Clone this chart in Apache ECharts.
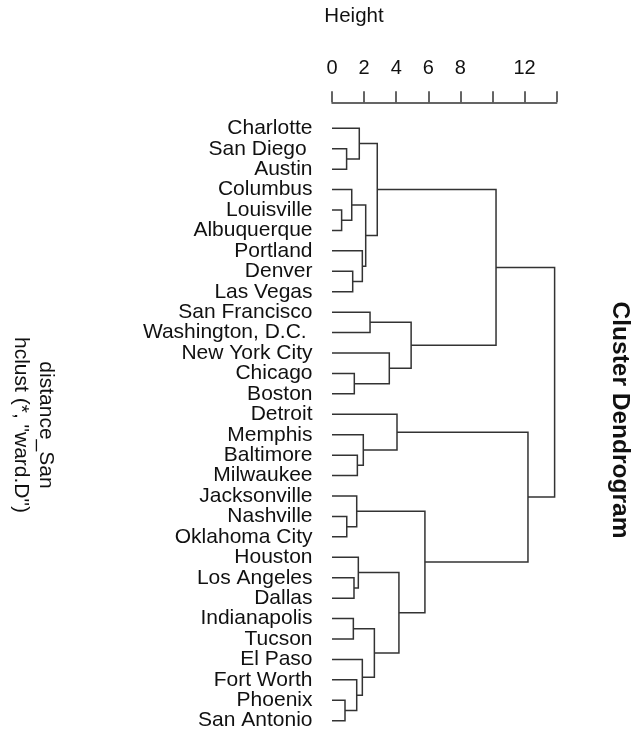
<!DOCTYPE html>
<html>
<head>
<meta charset="utf-8">
<title>Cluster Dendrogram</title>
<script src="https://cdn.jsdelivr.net/npm/echarts@6/dist/echarts.min.js"></script>
<style>
  html, body { margin: 0; padding: 0; background: #fff; }
  #chart { width: 633px; height: 732px; }
</style>
</head>
<body>
<div id="chart"></div>
<script>
// Leaf labels in dendrogram order (top to bottom)
const leaves = [
  'Charlotte', 'San Diego ', 'Austin', 'Columbus', 'Louisville', 'Albuquerque',
  'Portland', 'Denver', 'Las Vegas', 'San Francisco', 'Washington, D.C. ',
  'New York City', 'Chicago', 'Boston', 'Detroit', 'Memphis', 'Baltimore',
  'Milwaukee', 'Jacksonville', 'Nashville', 'Oklahoma City', 'Houston',
  'Los Angeles', 'Dallas', 'Indianapolis', 'Tucson', 'El Paso', 'Fort Worth',
  'Phoenix', 'San Antonio'
];

// hclust-style merge table: negative = leaf (1-based position in `leaves`),
// positive = an earlier merge step (1-based)
const mergeA = [-5, -29, -2, -20, -4, -8, -25, -23, -13, -28, -19, -17, -22, -1, -7,
                -27, -16, 5, -10, 7, 14, -12, -15, 13, 19, 11, 21, 23, 27];
const mergeB = [-6, -30, -3, -21, 1, -9, -26, -24, -14, 2, 4, -18, 8, 3, 6,
                10, 12, 15, -11, 16, 18, 9, 17, 20, 22, 24, 25, 26, 28];
const mergeHeight = [0.60, 0.81, 0.91, 0.92, 1.23, 1.29, 1.33, 1.37, 1.39, 1.54, 1.54,
                     1.58, 1.64, 1.70, 1.89, 1.89, 1.95, 2.10, 2.37, 2.64, 2.82, 3.57,
                     4.05, 4.17, 4.93, 5.79, 10.22, 12.21, 13.87];

// Height axis ticks and the ones that carry a label
const heightTicks = [0, 2, 4, 6, 8, 10, 12, 14];
const heightLabels = [0, 2, 4, 6, 8, 12];

// Work out each merge's position along the leaf axis and build U-shaped links
const mergePos = [];
const links = [];
function node(ref) {
  if (ref < 0) return { h: 0, y: -ref - 1 };
  return { h: mergeHeight[ref - 1], y: mergePos[ref - 1] };
}
for (let i = 0; i < mergeHeight.length; i++) {
  const a = node(mergeA[i]);
  const b = node(mergeB[i]);
  mergePos.push((a.y + b.y) / 2);
  links.push([a.h, a.y, b.h, b.y, mergeHeight[i]]);
}

const FONT = '"Liberation Sans", Arial, Helvetica, sans-serif';
const INK = '#333333';

const chart = echarts.init(document.getElementById('chart'), null, { renderer: 'canvas' });

chart.setOption({
  animation: false,
  backgroundColor: '#ffffff',
  grid: { left: 332, right: 76.3, top: 128.3, bottom: 11.3, containLabel: false },
  xAxis: {
    type: 'value',
    position: 'top',
    offset: 26,
    min: heightTicks[0],
    max: heightTicks[heightTicks.length - 1],
    interval: 2,
    axisLine: { show: true, onZero: false, lineStyle: { color: INK, width: 1.5 } },
    axisTick: { show: true, length: 11, lineStyle: { color: INK, width: 1.5 } },
    splitLine: { show: false },
    axisLabel: {
      show: true,
      margin: 24,
      color: '#111',
      fontSize: 20,
      fontFamily: FONT,
      formatter: v => (heightLabels.indexOf(v) >= 0 ? String(v) : '')
    }
  },
  yAxis: [
    {
      // leaf positions for the links (0 .. n-1, top to bottom)
      type: 'value',
      inverse: true,
      min: 0,
      max: leaves.length - 1,
      axisLine: { show: false },
      axisTick: { show: false },
      splitLine: { show: false },
      axisLabel: { show: false }
    },
    {
      // leaf names, one per position
      type: 'category',
      data: leaves,
      inverse: true,
      boundaryGap: false,
      position: 'left',
      axisLine: { show: false },
      axisTick: { show: false },
      splitLine: { show: false },
      axisLabel: {
        show: true,
        interval: 0,
        margin: 19.5,
        color: '#111',
        fontSize: 21,
        fontFamily: FONT
      }
    }
  ],
  series: [{
    type: 'custom',
    clip: false,
    yAxisIndex: 0,
    data: links,
    encode: { x: [0, 2, 4], y: [1, 3] },
    renderItem: function (params, api) {
      const hA = api.value(0), yA = api.value(1);
      const hB = api.value(2), yB = api.value(3);
      const h = api.value(4);
      const pts = [
        api.coord([hA, yA]),
        api.coord([h, yA]),
        api.coord([h, yB]),
        api.coord([hB, yB])
      ];
      return {
        type: 'polyline',
        shape: { points: pts },
        style: { stroke: INK, lineWidth: 1.5, fill: null }
      };
    }
  }],
  graphic: [
    {
      type: 'text',
      x: 354, y: 16,
      style: { text: 'Height', font: '20.5px ' + FONT, fill: '#111', align: 'center', verticalAlign: 'middle' }
    },
    {
      type: 'text',
      x: 620, y: 420, rotation: -Math.PI / 2,
      style: { text: 'Cluster Dendrogram', font: 'bold 24.5px ' + FONT, fill: '#111', align: 'center', verticalAlign: 'middle' }
    },
    {
      type: 'text',
      x: 46, y: 425, rotation: -Math.PI / 2,
      style: { text: 'distance_San', font: '21px ' + FONT, fill: '#111', align: 'center', verticalAlign: 'middle' }
    },
    {
      type: 'text',
      x: 21, y: 425, rotation: -Math.PI / 2,
      style: { text: 'hclust (*, "ward.D")', font: '21px ' + FONT, fill: '#111', align: 'center', verticalAlign: 'middle' }
    }
  ]
});
</script>
</body>
</html>
